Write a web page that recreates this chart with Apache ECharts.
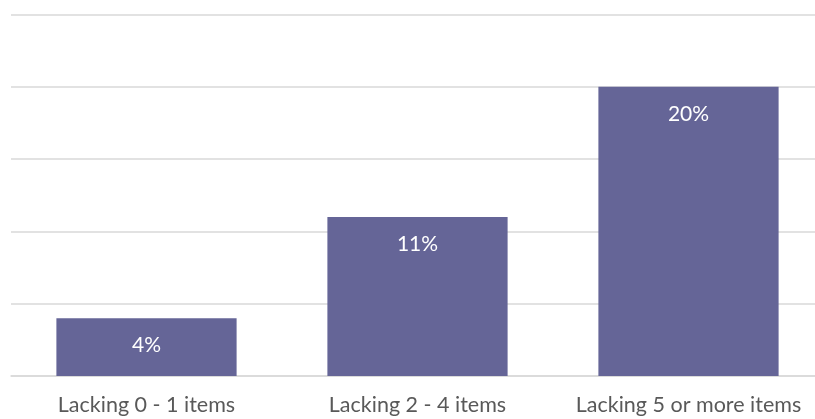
<!DOCTYPE html>
<html><head><meta charset="utf-8">
<script src="https://cdn.jsdelivr.net/npm/echarts@6/dist/echarts.min.js"></script>
<style>html,body{margin:0;padding:0;background:#fff}#c{width:815px;height:419px}</style>
</head><body><div id="c"></div>
<script>
const categories = ["Lacking 0 - 1 items", "Lacking 2 - 4 items", "Lacking 5 or more items"];
const values = [4, 11, 20];
const yMin = 0, yMax = 25, yInterval = 5;

const chart = echarts.init(document.getElementById('c'));
chart.setOption({
  animation: false,
  grid: { left: 11, top: 14.5, width: 813, bottom: 43, containLabel: false, outerBoundsMode: 'none' },
  xAxis: {
    type: 'category', data: categories,
    axisLine: { show: true, lineStyle: { color: '#d9d9d9', width: 1.5 } },
    axisTick: { show: false },
    axisLabel: { color: '#595959', fontSize: 21.5, fontFamily: 'Lato', margin: 18, interval: 0, hideOverlap: false }
  },
  yAxis: {
    type: 'value', min: yMin, max: yMax, interval: yInterval,
    axisLabel: { show: false }, axisLine: { show: false }, axisTick: { show: false },
    splitLine: { lineStyle: { color: '#d9d9d9', width: 1.5 } }
  },
  series: [{
    type: 'bar', data: values, barWidth: '66.5%',
    itemStyle: { color: '#656597' },
    label: { show: true, position: 'insideTop', distance: 17, color: '#ffffff', fontSize: 21, fontFamily: 'Lato', formatter: p => p.value + '%' }
  }]
});
</script></body></html>
